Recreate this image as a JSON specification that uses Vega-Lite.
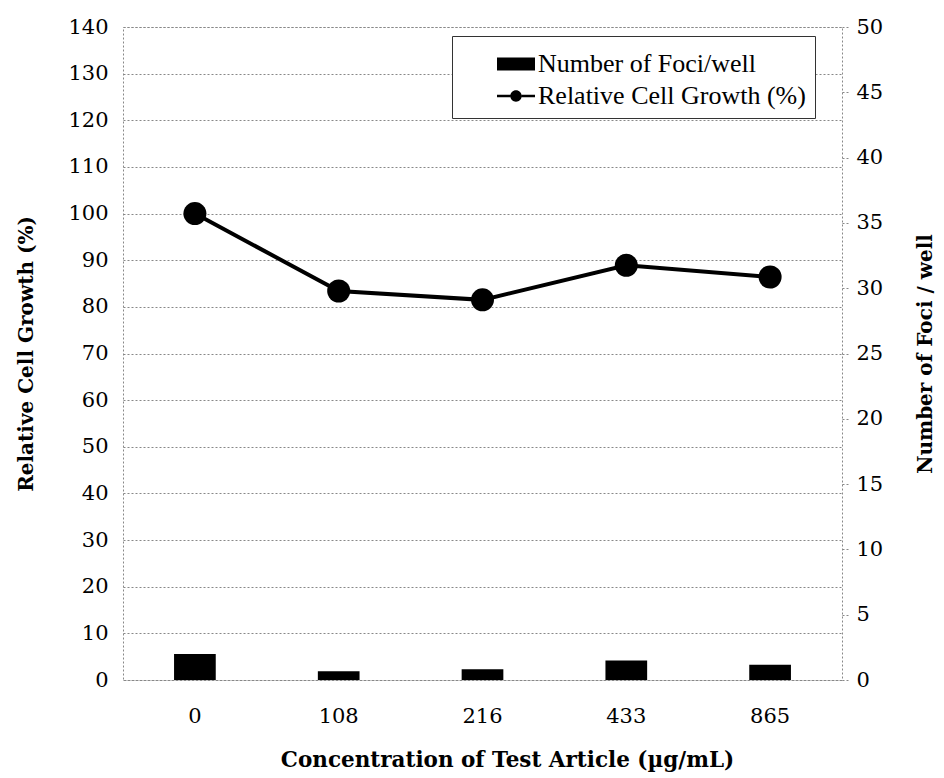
{
  "$schema": "https://vega.github.io/schema/vega-lite/v6.json",
  "width": 719,
  "height": 653,
  "autosize": {"type": "none"},
  "padding": {"left": 123, "top": 27, "right": 102, "bottom": 98},
  "background": "white",
  "config": {
    "view": {"stroke": "#888", "strokeDash": [2, 2]},
    "font": "DejaVu Serif"
  },
  "data": {
    "values": [
      {"conc": "0", "growth": 100, "foci": 2.0},
      {"conc": "108", "growth": 83.4, "foci": 0.67},
      {"conc": "216", "growth": 81.5, "foci": 0.83},
      {"conc": "433", "growth": 88.9, "foci": 1.5},
      {"conc": "865", "growth": 86.4, "foci": 1.17}
    ]
  },
  "encoding": {
    "x": {
      "field": "conc",
      "type": "ordinal",
      "sort": null,
      "scale": {"paddingInner": 0, "paddingOuter": 0},
      "title": "Concentration of Test Article (µg/mL)",
      "axis": {
        "labelAngle": 0, "ticks": false, "domain": false, "labelPadding": 25, "titlePadding": 23,
        "titleX": 384,
        "labelFont": "DejaVu Serif", "labelFontSize": 21, "labelColor": "black",
        "titleFont": "DejaVu Serif", "titleFontSize": 21.5, "titleFontWeight": "bold", "titleColor": "black"
      }
    }
  },
  "layer": [
    {
      "encoding": {
        "y": {
          "field": "growth",
          "type": "quantitative",
          "scale": {"domain": [0, 140], "nice": false},
          "title": "Relative Cell Growth (%)",
          "axis": {
            "orient": "left",
            "values": [0, 10, 20, 30, 40, 50, 60, 70, 80, 90, 100, 110, 120, 130, 140],
            "grid": true,
            "gridColor": "#888",
            "gridDash": [2, 2],
            "ticks": false,
            "domain": false,
            "labelPadding": 15,
            "titlePadding": 31,
            "labelFont": "DejaVu Serif", "labelFontSize": 21, "labelColor": "black",
            "titleFont": "DejaVu Serif", "titleFontSize": 20, "titleFontWeight": "bold", "titleColor": "black"
          }
        },
        "color": {
          "datum": "Relative Cell Growth (%)",
          "scale": {"domain": ["Number of Foci/well", "Relative Cell Growth (%)"], "range": ["black", "black"]},
          "legend": {
            "orient": "none",
            "legendX": 329,
            "legendY": 9,
            "title": null,
            "padding": 9,
            "strokeColor": "#333",
            "fillColor": "white",
            "symbolOffset": 36,
            "labelOffset": 3,
            "rowPadding": 0,
            "labelFont": "Liberation Serif",
            "labelFontSize": 26,
            "labelColor": "black",
            "labelLimit": 400,
            "symbolSize": 1444,
            "encode": {
              "symbols": {
                "update": {
                  "shape": {"signal": "datum.value === 'Number of Foci/well' ? 'M-1,-0.34H1V0.34H-1Z' : 'M-1,-0.07H-0.3V0.07H-1Z M0.3,-0.07H1V0.07H0.3Z M0.3,0A0.3,0.3 0 1,1 -0.3,0A0.3,0.3 0 1,1 0.3,0Z'"},
                  "fill": {"value": "black"},
                  "stroke": {"value": "black"},
                  "strokeWidth": {"value": 0},
                  "opacity": {"value": 1}
                }
              }
            }
          }
        }
      },
      "layer": [
        {"mark": {"type": "line", "strokeWidth": 4}},
        {"mark": {"type": "point", "filled": true, "size": 530, "opacity": 1}}
      ]
    },
    {
      "mark": {"type": "bar", "width": {"band": 0.29}},
      "encoding": {
        "y": {
          "field": "foci",
          "type": "quantitative",
          "scale": {"domain": [0, 50], "nice": false},
          "title": "Number of Foci / well",
          "axis": {
            "orient": "right",
            "values": [0, 5, 10, 15, 20, 25, 30, 35, 40, 45, 50],
            "grid": false,
            "ticks": true,
            "tickSize": 6,
            "tickColor": "#888",
            "tickDash": [2, 2],
            "domain": false,
            "labelPadding": 8,
            "titlePadding": 53,
            "titleAngle": -90,
            "labelFont": "DejaVu Serif", "labelFontSize": 21, "labelColor": "black",
            "titleFont": "DejaVu Serif", "titleFontSize": 20, "titleFontWeight": "bold", "titleColor": "black"
          }
        },
        "color": {"datum": "Number of Foci/well"}
      }
    }
  ],
  "resolve": {"scale": {"y": "independent"}}
}
